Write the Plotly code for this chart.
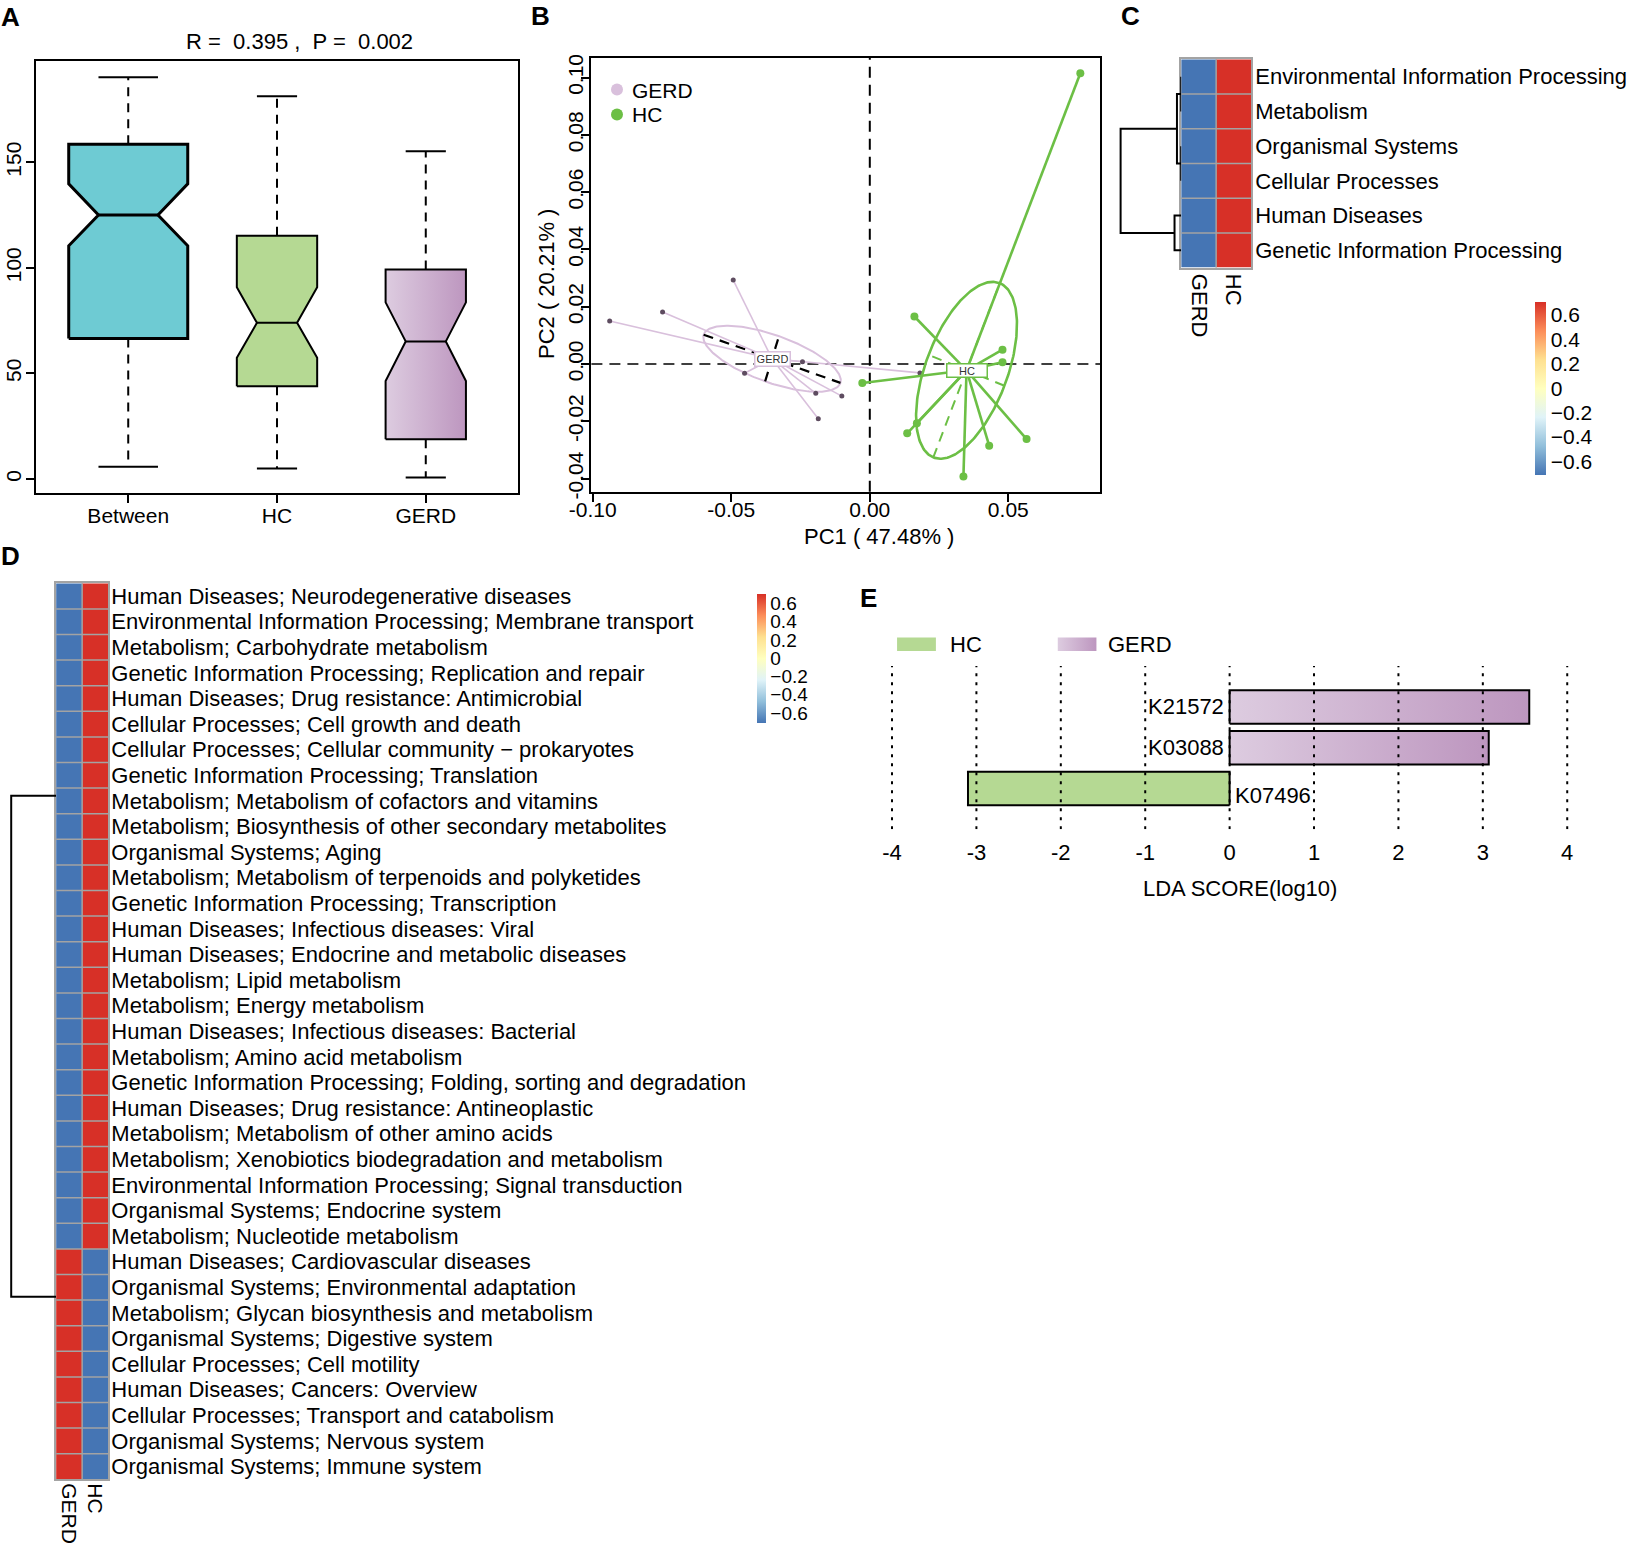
import numpy as np
import plotly.graph_objects as go

W, H = 1629, 1547
FONT = "Liberation Sans, Arial, Helvetica, sans-serif"


def PX(x):
    return x / W


def PY(y):
    return 1 - y / H


# ---------------- Panel A : notched boxplot (ANOSIM distances) ----------------
A_groups = ["Between", "HC", "GERD"]
A_lower = [5.8, 5.0, 0.8]
A_q1 = [66.6, 44.0, 18.9]
A_notch_lo = [110.5, 57.4, 46.4]
A_median = [125.1, 74.0, 65.2]
A_notch_hi = [139.8, 90.8, 83.7]
A_q3 = [158.6, 115.2, 99.3]
A_upper = [190.3, 181.3, 155.2]
A_width = [0.80, 0.54, 0.54]
A_title = "R =  0.395 ,  P =  0.002"

# ---------------- Panel B : PCA ----------------
B_gerd_pc1 = [-0.0939, -0.0748, -0.0493, -0.0452, -0.0243, -0.0195, -0.0101, -0.0186, 0.0181]
B_gerd_pc2 = [0.0150, 0.0182, 0.0293, -0.0032, 0.0008, -0.0102, -0.0112, -0.0191, -0.0031]
B_hc_pc1 = [-0.0027, 0.0161, 0.0479, 0.0479, 0.0170, 0.0135, 0.0431, 0.0566, 0.0338, 0.0760]
B_hc_pc2 = [-0.0066, 0.0166, 0.0050, 0.0006, -0.0207, -0.0242, -0.0285, -0.0262, -0.0393, 0.1015]
B_gerd_ell_u = [0.0247, -0.0084]
B_gerd_ell_v = [0.0025, 0.0079]
B_hc_ell_u = [0.0120, 0.0304]
B_hc_ell_v = [-0.0137, 0.0054]
B_xticks = [-0.10, -0.05, 0.00, 0.05]
B_xticktext = ["-0.10", "-0.05", "0.00", "0.05"]
B_yticks = [-0.04, -0.02, 0.00, 0.02, 0.04, 0.06, 0.08, 0.10]
B_yticktext = ["-0.04", "-0.02", "0.00", "0.02", "0.04", "0.06", "0.08", "0.10"]
B_xlabel = "PC1 ( 47.48% )"
B_ylabel = "PC2 ( 20.21% )"
B_legend = ["GERD", "HC"]

# ---------------- Panel C : level-1 heatmap ----------------
C_cols = ["GERD", "HC"]
C_rows = ["Environmental Information Processing", "Metabolism", "Organismal Systems",
          "Cellular Processes", "Human Diseases", "Genetic Information Processing"]
C_gerd = [-0.707, -0.707, -0.707, -0.707, -0.707, -0.707]
C_hc = [0.707, 0.707, 0.707, 0.707, 0.707, 0.707]
C_merge = [[-1, -2], [-3, -4], [1, 2], [-5, -6], [3, 4]]
C_height = [0.0, 0.0, 0.07, 0.11, 1.0]

# ---------------- Panel D : level-2 heatmap ----------------
D_cols = ["GERD", "HC"]
D_rows = [
    "Human Diseases; Neurodegenerative diseases",
    "Environmental Information Processing; Membrane transport",
    "Metabolism; Carbohydrate metabolism",
    "Genetic Information Processing; Replication and repair",
    "Human Diseases; Drug resistance: Antimicrobial",
    "Cellular Processes; Cell growth and death",
    "Cellular Processes; Cellular community \u2212 prokaryotes",
    "Genetic Information Processing; Translation",
    "Metabolism; Metabolism of cofactors and vitamins",
    "Metabolism; Biosynthesis of other secondary metabolites",
    "Organismal Systems; Aging",
    "Metabolism; Metabolism of terpenoids and polyketides",
    "Genetic Information Processing; Transcription",
    "Human Diseases; Infectious diseases: Viral",
    "Human Diseases; Endocrine and metabolic diseases",
    "Metabolism; Lipid metabolism",
    "Metabolism; Energy metabolism",
    "Human Diseases; Infectious diseases: Bacterial",
    "Metabolism; Amino acid metabolism",
    "Genetic Information Processing; Folding, sorting and degradation",
    "Human Diseases; Drug resistance: Antineoplastic",
    "Metabolism; Metabolism of other amino acids",
    "Metabolism; Xenobiotics biodegradation and metabolism",
    "Environmental Information Processing; Signal transduction",
    "Organismal Systems; Endocrine system",
    "Metabolism; Nucleotide metabolism",
    "Human Diseases; Cardiovascular diseases",
    "Organismal Systems; Environmental adaptation",
    "Metabolism; Glycan biosynthesis and metabolism",
    "Organismal Systems; Digestive system",
    "Cellular Processes; Cell motility",
    "Human Diseases; Cancers: Overview",
    "Cellular Processes; Transport and catabolism",
    "Organismal Systems; Nervous system",
    "Organismal Systems; Immune system",
]
D_gerd = [-0.707, -0.707, -0.707, -0.707, -0.707, -0.707, -0.707, -0.707, -0.707, -0.707,
          -0.707, -0.707, -0.707, -0.707, -0.707, -0.707, -0.707, -0.707, -0.707, -0.707,
          -0.707, -0.707, -0.707, -0.707, -0.707, -0.707,
          0.707, 0.707, 0.707, 0.707, 0.707, 0.707, 0.707, 0.707, 0.707]
D_hc = [0.707, 0.707, 0.707, 0.707, 0.707, 0.707, 0.707, 0.707, 0.707, 0.707,
        0.707, 0.707, 0.707, 0.707, 0.707, 0.707, 0.707, 0.707, 0.707, 0.707,
        0.707, 0.707, 0.707, 0.707, 0.707, 0.707,
        -0.707, -0.707, -0.707, -0.707, -0.707, -0.707, -0.707, -0.707, -0.707]
D_branch_pos = [7.8, 27.37]
D_branch_height = [0.0, 0.0]
D_root_height = 1.0

CB_vals = [0.6, 0.4, 0.2, 0.0, -0.2, -0.4, -0.6]
CB_text = ["0.6", "0.4", "0.2", "0", "\u22120.2", "\u22120.4", "\u22120.6"]
HEAT_SCALE = ["#4575B4", "#91BFDB", "#E0F3F8", "#FFFFBF", "#FEE090", "#FC8D59", "#D73027"]

# ---------------- Panel E : LEfSe ----------------
E_features = ["K21572", "K03088", "K07496"]
E_scores = [3.55, 3.07, -3.10]
E_groups = ["GERD", "GERD", "HC"]
E_ticks = [-4, -3, -2, -1, 0, 1, 2, 3, 4]
E_ticktext = ["-4", "-3", "-2", "-1", "0", "1", "2", "3", "4"]
E_xlabel = "LDA SCORE(log10)"

GREEN = "#6cbf45"
LIGHTPURPLE = "#d9c0dc"
PURPLE_GRAD = [[0, "#ddcce0"], [1, "#bd96bf"]]
HC_FILL = "#b5d993"

# ---------------- layout geometry (pixels) ----------------
A_dom = (36, 518, 61, 493)          # left, right, top, bottom
A_rng = ([0.38, 3.62], [-6.6, 198])
B_dom = (591.4, 1100, 58.1, 491.8)
B_rng = ([-0.1005, 0.0831], [-0.0446, 0.1068])
C_left, C_right, C_top, C_bot = 1181.2, 1251.1, 59.3, 267.7
D_left, D_right, D_top, D_bot = 56.1, 108.2, 583.3, 1479.3


def b_data(X, Y):
    l, r, t, b = B_dom
    xr, yr = B_rng
    return (xr[0] + (X - l) / (r - l) * (xr[1] - xr[0]),
            yr[0] + (b - Y) / (b - t) * (yr[1] - yr[0]))


fig = go.Figure()
skip = dict(showlegend=False, hoverinfo="skip")

# ---------- A ----------
A_fill = ["#6ecbd3", HC_FILL, None]
A_lw = [3, 2, 2]
for i, g in enumerate(A_groups):
    c = i + 1
    hw = A_width[i] / 2
    qw = A_width[i] / 4
    fig.add_trace(go.Scatter(x=[c, c, None, c, c],
                             y=[A_q3[i], A_upper[i], None, A_q1[i], A_lower[i]],
                             mode="lines", line=dict(color="black", width=2, dash="9px,7px"),
                             xaxis="x", yaxis="y", **skip))
    fig.add_trace(go.Scatter(x=[c - qw, c + qw, None, c - qw, c + qw],
                             y=[A_upper[i], A_upper[i], None, A_lower[i], A_lower[i]],
                             mode="lines", line=dict(color="black", width=2),
                             xaxis="x", yaxis="y", **skip))
    xs = [c - hw, c - hw, c - qw, c - hw, c - hw, c + hw, c + hw, c + qw, c + hw, c + hw, c - hw]
    ys = [A_q1[i], A_notch_lo[i], A_median[i], A_notch_hi[i], A_q3[i], A_q3[i],
          A_notch_hi[i], A_median[i], A_notch_lo[i], A_q1[i], A_q1[i]]
    if A_fill[i] is None:
        kw = dict(fillgradient=dict(type="horizontal", colorscale=PURPLE_GRAD))
    else:
        kw = dict(fillcolor=A_fill[i])
    fig.add_trace(go.Scatter(x=xs, y=ys, mode="lines", fill="toself",
                             line=dict(color="black", width=A_lw[i]),
                             xaxis="x", yaxis="y", **kw, **skip))
    fig.add_trace(go.Scatter(x=[c - qw, c + qw], y=[A_median[i], A_median[i]], mode="lines",
                             line=dict(color="black", width=A_lw[i]), xaxis="x", yaxis="y", **skip))

# ---------- B ----------
def group_layer(px_, py_, u, v, line_col, line_w, pt_col, pt_size, ell_w, axis_col, axis_w):
    cx, cy = float(np.mean(px_)), float(np.mean(py_))
    sx, sy = [], []
    for a, b in zip(px_, py_):
        sx += [cx, a, None]
        sy += [cy, b, None]
    t = np.linspace(0, 2 * np.pi, 240)
    ex = cx + u[0] * np.cos(t) + v[0] * np.sin(t)
    ey = cy + u[1] * np.cos(t) + v[1] * np.sin(t)
    fig.add_trace(go.Scatter(x=ex, y=ey, mode="lines", line=dict(color=line_col, width=ell_w),
                             xaxis="x2", yaxis="y2", **skip))
    fig.add_trace(go.Scatter(x=[cx - u[0], cx + u[0], None, cx - v[0], cx + v[0]],
                             y=[cy - u[1], cy + u[1], None, cy - v[1], cy + v[1]],
                             mode="lines", line=dict(color=axis_col, width=axis_w, dash="10px,7px"),
                             xaxis="x2", yaxis="y2", **skip))
    fig.add_trace(go.Scatter(x=sx, y=sy, mode="lines", line=dict(color=line_col, width=line_w),
                             xaxis="x2", yaxis="y2", **skip))
    fig.add_trace(go.Scatter(x=px_, y=py_, mode="markers", marker=dict(color=pt_col, size=pt_size),
                             xaxis="x2", yaxis="y2", **skip))
    return cx, cy


gcx, gcy = group_layer(B_gerd_pc1, B_gerd_pc2, B_gerd_ell_u, B_gerd_ell_v,
                       LIGHTPURPLE, 1.6, "#5e4c60", 5, 2, "black", 2.2)
hcx, hcy = group_layer(B_hc_pc1, B_hc_pc2, B_hc_ell_u, B_hc_ell_v,
                       GREEN, 2.6, GREEN, 8, 2.6, GREEN, 2)

# legend keys of panel B (placed in pixel space, converted to the panel's axes)
legB_x = []
legB_y = []
for k, Yp in enumerate([89.5, 114.5]):
    xx, yy = b_data(617, Yp)
    legB_x.append(xx)
    legB_y.append(yy)
fig.add_trace(go.Scatter(x=legB_x, y=legB_y, mode="markers",
                         marker=dict(color=[LIGHTPURPLE, GREEN], size=12),
                         xaxis="x2", yaxis="y2", cliponaxis=False, **skip))

# ---------- heatmaps ----------
def heat(zcols, rows, xa, ya, cb):
    z = [[zcols[0][k], zcols[1][k]] for k in range(len(rows))]
    fig.add_trace(go.Heatmap(z=z, x=[0, 1], y=list(range(len(rows))), zmin=-0.7071, zmax=0.7071,
                             colorscale=[[k / 6, c] for k, c in enumerate(HEAT_SCALE)],
                             colorbar=cb, xaxis=xa, yaxis=ya, hoverinfo="skip"))


def cbar(x, yc, length, thick, size):
    return dict(x=PX(x), xanchor="left", y=PY(yc), yanchor="middle", len=length, lenmode="pixels",
                thickness=thick, thicknessmode="pixels", xpad=0, ypad=0, outlinewidth=0,
                tickvals=CB_vals, ticktext=CB_text, ticks="",
                tickfont=dict(family=FONT, size=size, color="black"))


heat([C_gerd, C_hc], C_rows, "x3", "y3", cbar(1535.2, 388.2, 173, 10.7, 21))
heat([D_gerd, D_hc], D_rows, "x5", "y5", cbar(756.7, 658.3, 129, 9, 19))

shapes = []
GRID = "#a3a3a3"
for xa, ya, nrow in (("x3", "y3", len(C_rows)), ("x5", "y5", len(D_rows))):
    shapes.append(dict(type="line", xref=xa, yref=ya, x0=0.5, x1=0.5, y0=-0.5, y1=nrow - 0.5,
                       line=dict(color=GRID, width=1.5), layer="above"))
    for k in range(1, nrow):
        shapes.append(dict(type="line", xref=xa, yref=ya, x0=-0.5, x1=1.5, y0=k - 0.5, y1=k - 0.5,
                           line=dict(color=GRID, width=1.5), layer="above"))


# dendrograms
def dendro_paths(merge, heights):
    pos, hgt = {}, {}
    xs, ys = [], []

    def node(k):
        if k < 0:
            return float(-k - 1), 0.0
        return pos[k], hgt[k]

    for i, (a, b) in enumerate(merge, start=1):
        pa, ha = node(a)
        pb, hb = node(b)
        hi = heights[i - 1]
        xs += [ha, hi, hi, hb, None]
        ys += [pa, pa, pb, pb, None]
        pos[i] = (pa + pb) / 2
        hgt[i] = hi
    return xs, ys


cxs, cys = dendro_paths(C_merge, C_height)
fig.add_trace(go.Scatter(x=cxs, y=cys, mode="lines", line=dict(color="black", width=2),
                         xaxis="x4", yaxis="y4", **skip))
dxs = [D_branch_height[0], D_root_height, D_root_height, D_branch_height[1]]
dys = [D_branch_pos[0], D_branch_pos[0], D_branch_pos[1], D_branch_pos[1]]
fig.add_trace(go.Scatter(x=dxs, y=dys, mode="lines", line=dict(color="black", width=2),
                         xaxis="x6", yaxis="y6", **skip))

# ---------- E ----------
nE = len(E_features)
E_half = 0.41
F22 = dict(family=FONT, size=22, color="black")
annE = []
for i, (f, s, g) in enumerate(zip(E_features, E_scores, E_groups)):
    yc = nE - 1 - i
    xs = [0, s, s, 0, 0]
    ys = [yc - E_half, yc - E_half, yc + E_half, yc + E_half, yc - E_half]
    kw = dict(fillgradient=dict(type="horizontal", colorscale=PURPLE_GRAD)) if g == "GERD" \
        else dict(fillcolor=HC_FILL)
    fig.add_trace(go.Scatter(x=xs, y=ys, mode="lines", fill="toself", line=dict(color="black", width=2),
                             xaxis="x7", yaxis="y7", **kw, **skip))
    if s > 0:
        annE.append(dict(text=f, x=0, y=yc, xref="x7", yref="y7", xanchor="right", yanchor="middle",
                         xshift=-4, showarrow=False, font=F22))
    else:
        annE.append(dict(text=f, x=0, y=yc, xref="x7", yref="y7", xanchor="left", yanchor="middle",
                         xshift=3, yshift=-7, showarrow=False, font=F22))

# E legend swatches
fig.add_trace(go.Scatter(x=[-3.94, -3.48, -3.48, -3.94, -3.94], y=[3.37, 3.37, 3.70, 3.70, 3.37],
                         mode="lines", fill="toself", fillcolor=HC_FILL, line=dict(width=0),
                         xaxis="x7", yaxis="y7", **skip))
fig.add_trace(go.Scatter(x=[-2.036, -1.578, -1.578, -2.036, -2.036], y=[3.37, 3.37, 3.70, 3.70, 3.37],
                         mode="lines", fill="toself",
                         fillgradient=dict(type="horizontal", colorscale=PURPLE_GRAD), line=dict(width=0),
                         xaxis="x7", yaxis="y7", **skip))
annE.append(dict(text="HC", x=-3.34, y=3.535, xref="x7", yref="y7", xanchor="left", yanchor="middle",
                 showarrow=False, font=F22))
annE.append(dict(text="GERD", x=-1.47, y=3.535, xref="x7", yref="y7", xanchor="left", yanchor="middle",
                 showarrow=False, font=F22))
for v in E_ticks:
    shapes.append(dict(type="line", xref="x7", yref="y7", x0=v, x1=v, y0=-1, y1=3,
                       line=dict(color="black", width=2, dash="3px,6px"), layer="above"))

# zero lines of PCA
shapes.append(dict(type="line", xref="x2", yref="y2 domain", x0=0, x1=0, y0=0, y1=1,
                   line=dict(color="black", width=2, dash="11px,7px"), layer="below"))
shapes.append(dict(type="line", xref="x2 domain", yref="y2", x0=0, x1=1, y0=0, y1=0,
                   line=dict(color="black", width=1.6, dash="11px,7px"), layer="below"))


def ann(text, x, y, size=22, xanchor="center", **kw):
    d = dict(text=text, x=PX(x), y=PY(y), xref="paper", yref="paper", showarrow=False,
             xanchor=xanchor, yanchor="middle", font=dict(family=FONT, size=size, color="black"))
    d.update(kw)
    return d


annotations = [
    ann("<b>A</b>", 10, 17, 26), ann("<b>B</b>", 540, 16, 26), ann("<b>C</b>", 1130, 16, 26),
    ann("<b>D</b>", 10, 556, 26), ann("<b>E</b>", 868, 598, 26),
    ann(A_title, 299, 41, 22),
    ann(B_xlabel, 879, 536, 22),
    ann(B_ylabel, 546, 284, 22, textangle=-90),
    ann(E_xlabel, 1240, 889, 22),
    ann(B_legend[0], 630, 90, 21, xanchor="left"),
    ann(B_legend[1], 630, 115, 21, xanchor="left"),
    dict(text="GERD", x=gcx, y=gcy, xref="x2", yref="y2", showarrow=False, bgcolor="white",
         bordercolor=LIGHTPURPLE, borderwidth=1.5, borderpad=1, width=32, height=11,
         xanchor="center", yanchor="middle", font=dict(family=FONT, size=11, color="#333333")),
    dict(text="HC", x=hcx, y=hcy, xref="x2", yref="y2", showarrow=False, bgcolor="white",
         bordercolor=GREEN, borderwidth=1.5, borderpad=1, width=37, height=10,
         xanchor="center", yanchor="middle", font=dict(family=FONT, size=11, color="#333333")),
] + annE

tf21 = dict(family=FONT, size=21, color="black")
tf22 = dict(family=FONT, size=22, color="black")
base = dict(showgrid=False, zeroline=False, automargin=False)
framed = dict(showline=True, mirror=True, linewidth=2, linecolor="black", ticks="outside",
              ticklen=8, tickwidth=2, tickcolor="black", tickfont=tf21)
hframe = dict(showline=True, mirror=True, linewidth=1.5, linecolor=GRID, ticks="", tickfont=tf22)
hframe21 = dict(hframe, tickfont=tf21)

fig.update_layout(
    width=W, height=H, autosize=False, margin=dict(l=0, r=0, t=0, b=0, autoexpand=False),
    paper_bgcolor="white", plot_bgcolor="white",
    font=dict(family=FONT, color="black", size=20),
    showlegend=False,
    xaxis=dict(domain=[PX(A_dom[0]), PX(A_dom[1])], range=A_rng[0], tickvals=[1, 2, 3], ticktext=A_groups,
               anchor="y", ticklabelstandoff=-5, **base, **framed),
    yaxis=dict(domain=[PY(A_dom[3]), PY(A_dom[2])], range=A_rng[1], tickvals=[0, 50, 100, 150],
               tickangle=-90, anchor="x", ticklabelstandoff=-3, **base, **framed),
    xaxis2=dict(domain=[PX(B_dom[0]), PX(B_dom[1])], range=B_rng[0], tickvals=B_xticks,
                ticktext=B_xticktext, anchor="y2", ticklabelstandoff=-10, **base, **framed),
    yaxis2=dict(domain=[PY(B_dom[3]), PY(B_dom[2])], range=B_rng[1], tickvals=B_yticks,
                ticktext=B_yticktext, tickangle=-90, anchor="x2", ticklabelstandoff=-10, **base, **framed),
    xaxis3=dict(domain=[PX(C_left), PX(C_right)], range=[-0.5, 1.5], tickvals=[0, 1], ticktext=C_cols,
                tickangle=90, anchor="y3", **base, **hframe),
    yaxis3=dict(domain=[PY(C_bot), PY(C_top)], range=[len(C_rows) - 0.5, -0.5],
                tickvals=list(range(len(C_rows))), ticktext=C_rows, side="right", anchor="x3",
                ticklabelstandoff=-2, **base, **hframe),
    xaxis4=dict(domain=[PX(C_left - 60.6 * 1.03), PX(C_left)], range=[1.03, 0], visible=False,
                anchor="y4", **base),
    yaxis4=dict(domain=[PY(C_bot), PY(C_top)], range=[len(C_rows) - 0.5, -0.5], visible=False,
                anchor="x4", **base),
    xaxis5=dict(domain=[PX(D_left), PX(D_right)], range=[-0.5, 1.5], tickvals=[0, 1], ticktext=D_cols,
                tickangle=90, anchor="y5", ticklabelstandoff=-2, **base, **hframe21),
    yaxis5=dict(domain=[PY(D_bot), PY(D_top)], range=[len(D_rows) - 0.5, -0.5],
                tickvals=list(range(len(D_rows))), ticktext=D_rows, side="right", anchor="x5",
                ticklabelstandoff=-3, **base, **hframe),
    xaxis6=dict(domain=[PX(D_left - 44.9 * 1.03), PX(D_left)], range=[1.03, 0], visible=False,
                anchor="y6", **base),
    yaxis6=dict(domain=[PY(D_bot), PY(D_top)], range=[len(D_rows) - 0.5, -0.5], visible=False,
                anchor="x6", **base),
    xaxis7=dict(domain=[PX(885), PX(1575)], range=[-4.083, 4.092], tickvals=E_ticks, ticktext=E_ticktext,
                ticks="", showline=False, tickfont=tf22, anchor="y7", ticklabelstandoff=8, **base),
    yaxis7=dict(domain=[PY(829.3), PY(625.3)], range=[-1, 4], visible=False, anchor="x7", **base),
    shapes=shapes,
    annotations=annotations,
)

fig.write_html("out.html", config={"displayModeBar": False},
               post_script="document.body.style.margin='0px';document.body.style.padding='0px';"
                           "document.body.style.overflow='hidden';")
